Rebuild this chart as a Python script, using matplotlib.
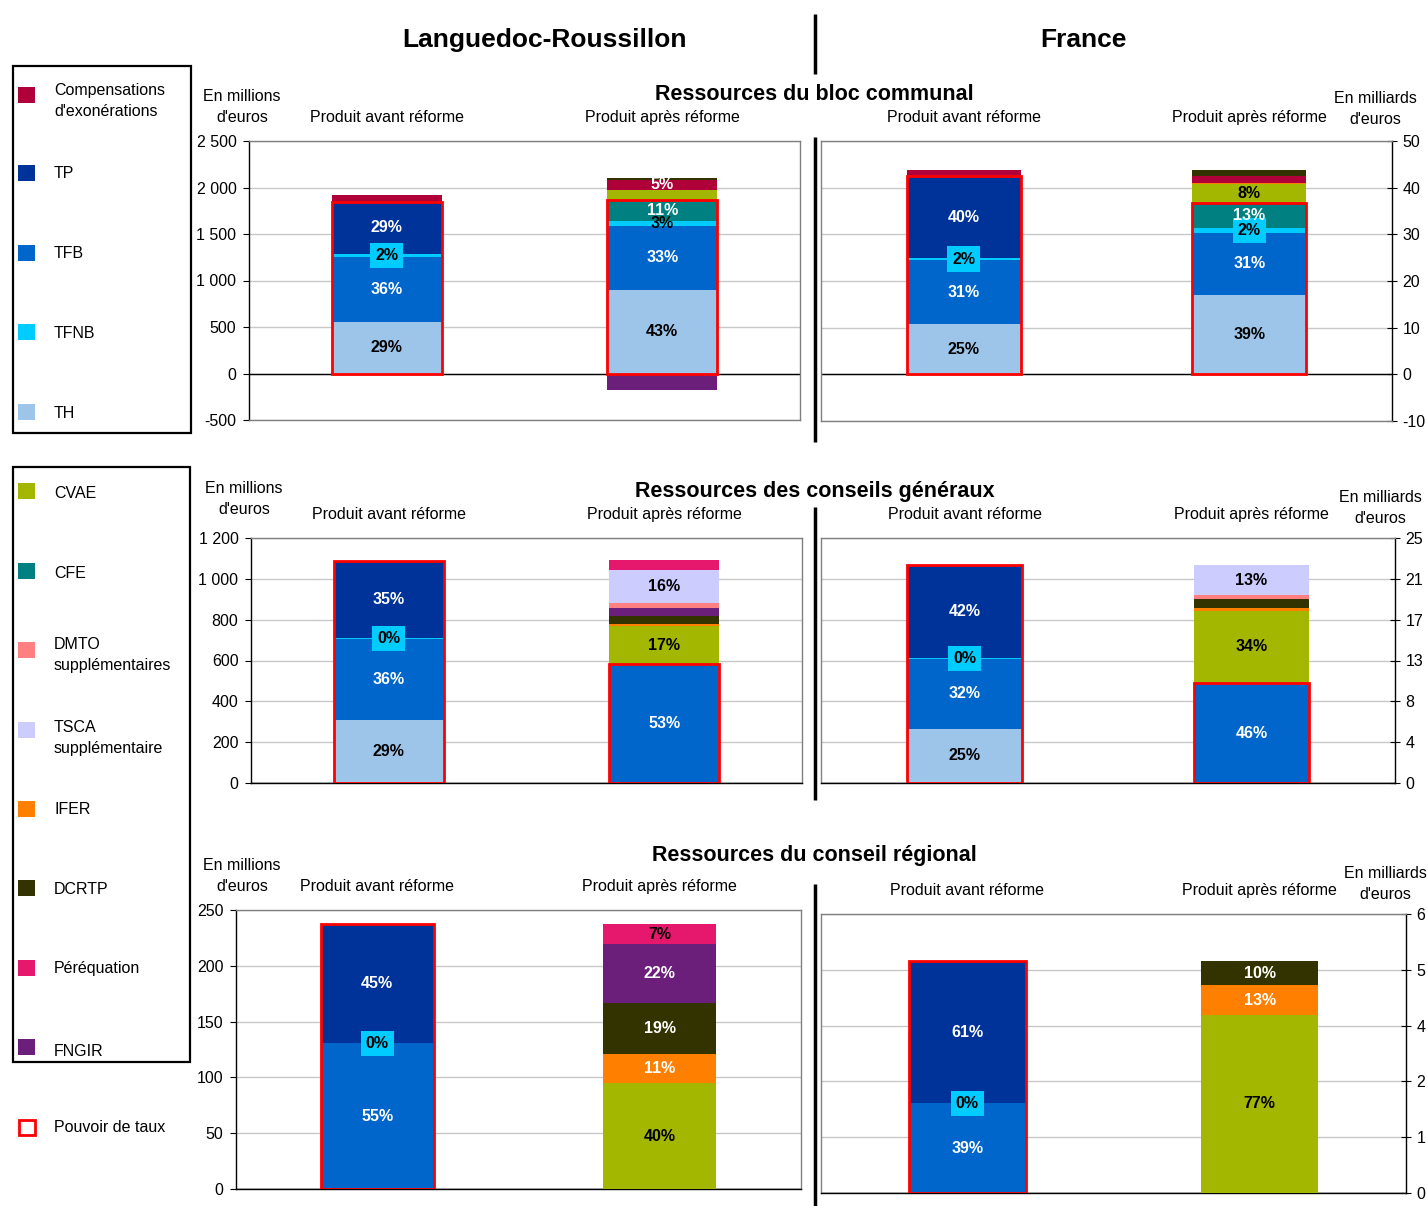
"""
Réforme de la fiscalité locale : ressources avant / après réforme
Languedoc-Roussillon vs France, par niveau de collectivité
"""
import numpy as np
import matplotlib.pyplot as plt
from matplotlib.patches import Rectangle
from matplotlib.ticker import FuncFormatter

plt.rcParams['font.family'] = ['Liberation Sans', 'DejaVu Sans']
plt.rcParams['axes.unicode_minus'] = False

W, H, DPI = 1427, 1206, 100

COLORS = {
    'Comp': '#B0003A',
    'TP': '#003399',
    'TFB': '#0066CC',
    'TFNB': '#00CCFF',
    'TH': '#9DC5E9',
    'CVAE': '#A3B700',
    'CFE': '#008080',
    'DMTO': '#FF8080',
    'TSCA': '#CCCCFF',
    'IFER': '#FF7F00',
    'DCRTP': '#333300',
    'Pereq': '#E6186E',
    'FNGIR': '#6C1F7A',
}
WHITE_TEXT = {'TP', 'TFB', 'CFE', 'IFER', 'Comp', 'DCRTP', 'FNGIR'}

categories = ['Produit avant réforme', 'Produit après réforme']

# ---- Bloc communal ----
bloc_series = ['TH', 'TFB', 'TFNB', 'TP', 'CFE', 'CVAE', 'IFER', 'Comp', 'DCRTP', 'FNGIR']
bloc_taux = {'TH', 'TFB', 'TFNB', 'TP', 'CFE'}
# Languedoc-Roussillon (millions d'euros)
bloc_lr_avant = [554, 694, 40, 554, 0, 0, 0, 82, 0, 0]
bloc_lr_apres = [899, 691, 54, 0, 226, 108, 0, 108, 11, -176]
bloc_lr_avant_pct = ['29%', '36%', '2%', '29%', '', '', '', '', '', '']
bloc_lr_apres_pct = ['43%', '33%', '3%', '', '11%', '', '', '5%', '', '']
# France (milliards d'euros)
bloc_fr_avant = [10.7, 13.7, 0.6, 17.4, 0, 0, 0, 1.4, 0, 0]
bloc_fr_apres = [17.05, 13.25, 1.1, 0, 5.3, 4.1, 0.2, 1.5, 1.3, 0]
bloc_fr_avant_pct = ['25%', '31%', '2%', '40%', '', '', '', '', '', '']
bloc_fr_apres_pct = ['39%', '31%', '2%', '', '13%', '8%', '', '', '', '']

# ---- Conseils généraux ----
cg_series = ['TH', 'TFB', 'TFNB', 'TP', 'CVAE', 'IFER', 'DCRTP', 'FNGIR', 'DMTO', 'TSCA', 'Pereq']
cg_taux = {'TH', 'TFB', 'TFNB', 'TP'}
cg_lr_avant = [310, 397, 1, 377, 0, 0, 0, 0, 0, 0, 0]
cg_lr_apres = [0, 583, 0, 0, 184, 12, 41, 39, 21, 165, 49]
cg_lr_avant_pct = ['29%', '36%', '0%', '35%', '', '', '', '', '', '', '']
cg_lr_apres_pct = ['', '53%', '', '', '17%', '', '', '', '', '16%', '']
cg_fr_avant = [5.54, 7.15, 0.05, 9.5, 0, 0, 0, 0, 0, 0, 0]
cg_fr_apres = [0, 10.2, 0, 0, 7.38, 0.32, 0.9, 0, 0.4, 3.0, 0]
cg_fr_avant_pct = ['25%', '32%', '0%', '42%', '', '', '', '', '', '', '']
cg_fr_apres_pct = ['', '46%', '', '', '34%', '', '', '', '', '13%', '']

# ---- Conseil régional ----
reg_series = ['TFB', 'TFNB', 'TP', 'CVAE', 'IFER', 'DCRTP', 'FNGIR', 'Pereq']
reg_taux = {'TFB', 'TFNB', 'TP'}
reg_lr_avant = [130.4, 0.3, 106.5, 0, 0, 0, 0, 0]
reg_lr_apres = [0, 0, 0, 94.8, 26.0, 45.5, 53.2, 17.9]
reg_lr_avant_pct = ['55%', '0%', '45%', '', '', '', '', '']
reg_lr_apres_pct = ['', '', '', '40%', '11%', '19%', '22%', '7%']
reg_fr_avant = [1.93, 0.005, 3.05, 0, 0, 0, 0, 0]
reg_fr_apres = [0, 0, 0, 3.83, 0.64, 0.52, 0, 0]
reg_fr_avant_pct = ['39%', '0%', '61%', '', '', '', '', '']
reg_fr_apres_pct = ['', '', '', '77%', '13%', '10%', '', '']

# right axis tick labels (France)
cg_fr_ticklabels = ['0', '4', '8', '13', '17', '21', '25']
reg_fr_ticklabels = ['0', '1', '2', '4', '5', '6']

legend1_keys = ['Comp', 'TP', 'TFB', 'TFNB', 'TH']
legend1_labels = ["Compensations\nd'exonérations", 'TP', 'TFB', 'TFNB', 'TH']
legend2_keys = ['CVAE', 'CFE', 'DMTO', 'TSCA', 'IFER', 'DCRTP', 'Pereq', 'FNGIR']
legend2_labels = ['CVAE', 'CFE', 'DMTO\nsupplémentaires', 'TSCA\nsupplémentaire',
                  'IFER', 'DCRTP', 'Péréquation', 'FNGIR']

fig = plt.figure(figsize=(W / DPI, H / DPI), dpi=DPI)
fig.patch.set_facecolor('white')

# background layer in pixel coordinates (titles, legend, separators)
bg = fig.add_axes([0, 0, 1, 1])
bg.set_xlim(0, W)
bg.set_ylim(H, 0)
bg.axis('off')


def px_axes(l, t, r, b):
    return fig.add_axes([l / W, 1 - b / H, (r - l) / W, (b - t) / H])


def thousands(v, _):
    return f'{v:,.0f}'.replace(',', ' ')


def panel(ax, series, avant, apres, avant_pct, apres_pct, taux, ylim, ticks,
          ticklabels=None, side='left', tfnb_box=(True, True)):
    x = np.arange(len(categories))
    for i, (vals, pcts) in enumerate([(avant, avant_pct), (apres, apres_pct)]):
        pos_base, neg_base, taux_top = 0.0, 0.0, 0.0
        for s, v, p in zip(series, vals, pcts):
            if v == 0:
                continue
            if v > 0:
                bottom = pos_base
                pos_base += v
            else:
                bottom = neg_base
                neg_base += v
            ax.bar(x[i], v, 0.4, bottom=bottom, color=COLORS[s], linewidth=0, zorder=3)
            if s in taux and v > 0:
                taux_top = bottom + v
            if p:
                box = None
                if s == 'TFNB' and tfnb_box[i]:
                    box = dict(boxstyle='square,pad=0.32', fc=COLORS['TFNB'], ec='none')
                ax.text(x[i], bottom + v / 2, p, ha='center', va='center', fontsize=11.5,
                        fontweight='bold', color='white' if s in WHITE_TEXT else 'black',
                        zorder=6, bbox=box)
        if taux_top > 0:
            ax.bar(x[i], taux_top, 0.4, bottom=0, fill=False, edgecolor='#FF0000',
                   linewidth=2, zorder=5)

    ax.set_xlim(-0.5, 1.5)
    ax.set_ylim(*ylim)
    ax.set_yticks(ticks)
    ax.set_axisbelow(True)
    ax.yaxis.grid(True, color='#C8C8C8', linewidth=1)
    ax.axhline(0, color='black', linewidth=1, zorder=2.5)

    ax.set_xticks(x)
    ax.set_xticklabels(categories)
    ax.tick_params(axis='x', length=0, labelsize=11.5, pad=11.5, top=True, bottom=False,
                   labeltop=True, labelbottom=False)

    for sp in ax.spines.values():
        sp.set_color('#808080')
        sp.set_linewidth(1)
    ax.spines['bottom'].set_color('#808080' if ylim[0] < 0 else 'black')

    if side == 'left':
        ax.spines['left'].set_color('black')
        ax.yaxis.set_major_formatter(FuncFormatter(thousands))
        ax.tick_params(axis='y', direction='out', length=4, labelsize=11.5, pad=5,
                       color='black')
    else:
        ax.spines['right'].set_color('black')
        ax.yaxis.tick_right()
        if ticklabels is not None:
            ax.set_yticklabels(ticklabels)
        ax.tick_params(axis='y', direction='inout', length=7, labelsize=11.5, pad=4,
                       color='black')


# Row 1: bloc communal
ax = px_axes(249, 141, 800, 420)
panel(ax, bloc_series, bloc_lr_avant, bloc_lr_apres, bloc_lr_avant_pct, bloc_lr_apres_pct,
      bloc_taux, (-500, 2500), np.arange(-500, 2501, 500), tfnb_box=(True, False))
ax = px_axes(821, 141, 1392, 421)
panel(ax, bloc_series, bloc_fr_avant, bloc_fr_apres, bloc_fr_avant_pct, bloc_fr_apres_pct,
      bloc_taux, (-10, 50), np.arange(-10, 51, 10), side='right')

# Row 2: conseils généraux
ax = px_axes(251, 538, 802, 783)
panel(ax, cg_series, cg_lr_avant, cg_lr_apres, cg_lr_avant_pct, cg_lr_apres_pct,
      cg_taux, (0, 1200), np.arange(0, 1201, 200))
ax = px_axes(821, 538, 1395, 783)
panel(ax, cg_series, cg_fr_avant, cg_fr_apres, cg_fr_avant_pct, cg_fr_apres_pct,
      cg_taux, (0, 25), np.linspace(0, 25, 7), ticklabels=cg_fr_ticklabels, side='right')

# Row 3: conseil régional
ax = px_axes(236, 910, 801, 1189)
panel(ax, reg_series, reg_lr_avant, reg_lr_apres, reg_lr_avant_pct, reg_lr_apres_pct,
      reg_taux, (0, 250), np.arange(0, 251, 50))
ax = px_axes(821, 914, 1406, 1193)
panel(ax, reg_series, reg_fr_avant, reg_fr_apres, reg_fr_avant_pct, reg_fr_apres_pct,
      reg_taux, (0, 6.0), np.linspace(0, 6.0, 6), ticklabels=reg_fr_ticklabels, side='right')

# Titles
bg.text(545, 40, 'Languedoc-Roussillon', ha='center', va='center', fontsize=19, fontweight='bold')
bg.text(1083, 40, 'France', ha='center', va='center', fontsize=19, fontweight='bold')
bg.text(814, 95, 'Ressources du bloc communal', ha='center', va='center', fontsize=15.5, fontweight='bold')
bg.text(815, 491, 'Ressources des conseils généraux', ha='center', va='center', fontsize=15.5, fontweight='bold')
bg.text(814, 855, 'Ressources du conseil régional', ha='center', va='center', fontsize=15.5, fontweight='bold')

# Unit labels
for xu, yu in [(242, 107), (244, 499), (242, 876)]:
    bg.text(xu, yu, "En millions\nd'euros", ha='center', va='center', fontsize=11.5,
            linespacing=1.45)
for xu, yu in [(1375, 109), (1380, 508), (1385, 884)]:
    bg.text(xu, yu, "En milliards\nd'euros", ha='center', va='center', fontsize=11.5,
            linespacing=1.45)

# Vertical separator between LR and France
for y0, y1 in [(14, 74), (137, 442), (507, 800), (884, 1206)]:
    bg.plot([815, 815], [y0, y1], color='black', linewidth=2.5, solid_capstyle='butt')

# Legend boxes
bg.add_patch(Rectangle((13, 66), 178, 367, fill=False, edgecolor='black', linewidth=1.6))
bg.add_patch(Rectangle((13, 467), 177, 595, fill=False, edgecolor='black', linewidth=1.6))

legend1_y = [95, 173, 253, 332, 412]
legend2_y = [491, 571, 650, 730, 809, 888, 968, 1047]
legend1_dy = [6, 1, 1, 1, 1]
legend2_dy = [3, 2, 5, 8, 1, 2, 1, 4]
for keys, labels, ys, dys in [(legend1_keys, legend1_labels, legend1_y, legend1_dy),
                              (legend2_keys, legend2_labels, legend2_y, legend2_dy)]:
    for k, lab, yy, dy in zip(keys, labels, ys, dys):
        bg.add_patch(Rectangle((18, yy - 8), 17, 16, facecolor=COLORS[k], edgecolor='none'))
        bg.text(54, yy + dy, lab, ha='left', va='center', fontsize=11.5, linespacing=1.45)

bg.add_patch(Rectangle((19, 1120), 16, 15, fill=False, edgecolor='#FF0000', linewidth=2))
bg.text(54, 1127, 'Pouvoir de taux', ha='left', va='center', fontsize=11.5)

fig.savefig('out.png', dpi=DPI, facecolor='white')
print('saved out.png')
